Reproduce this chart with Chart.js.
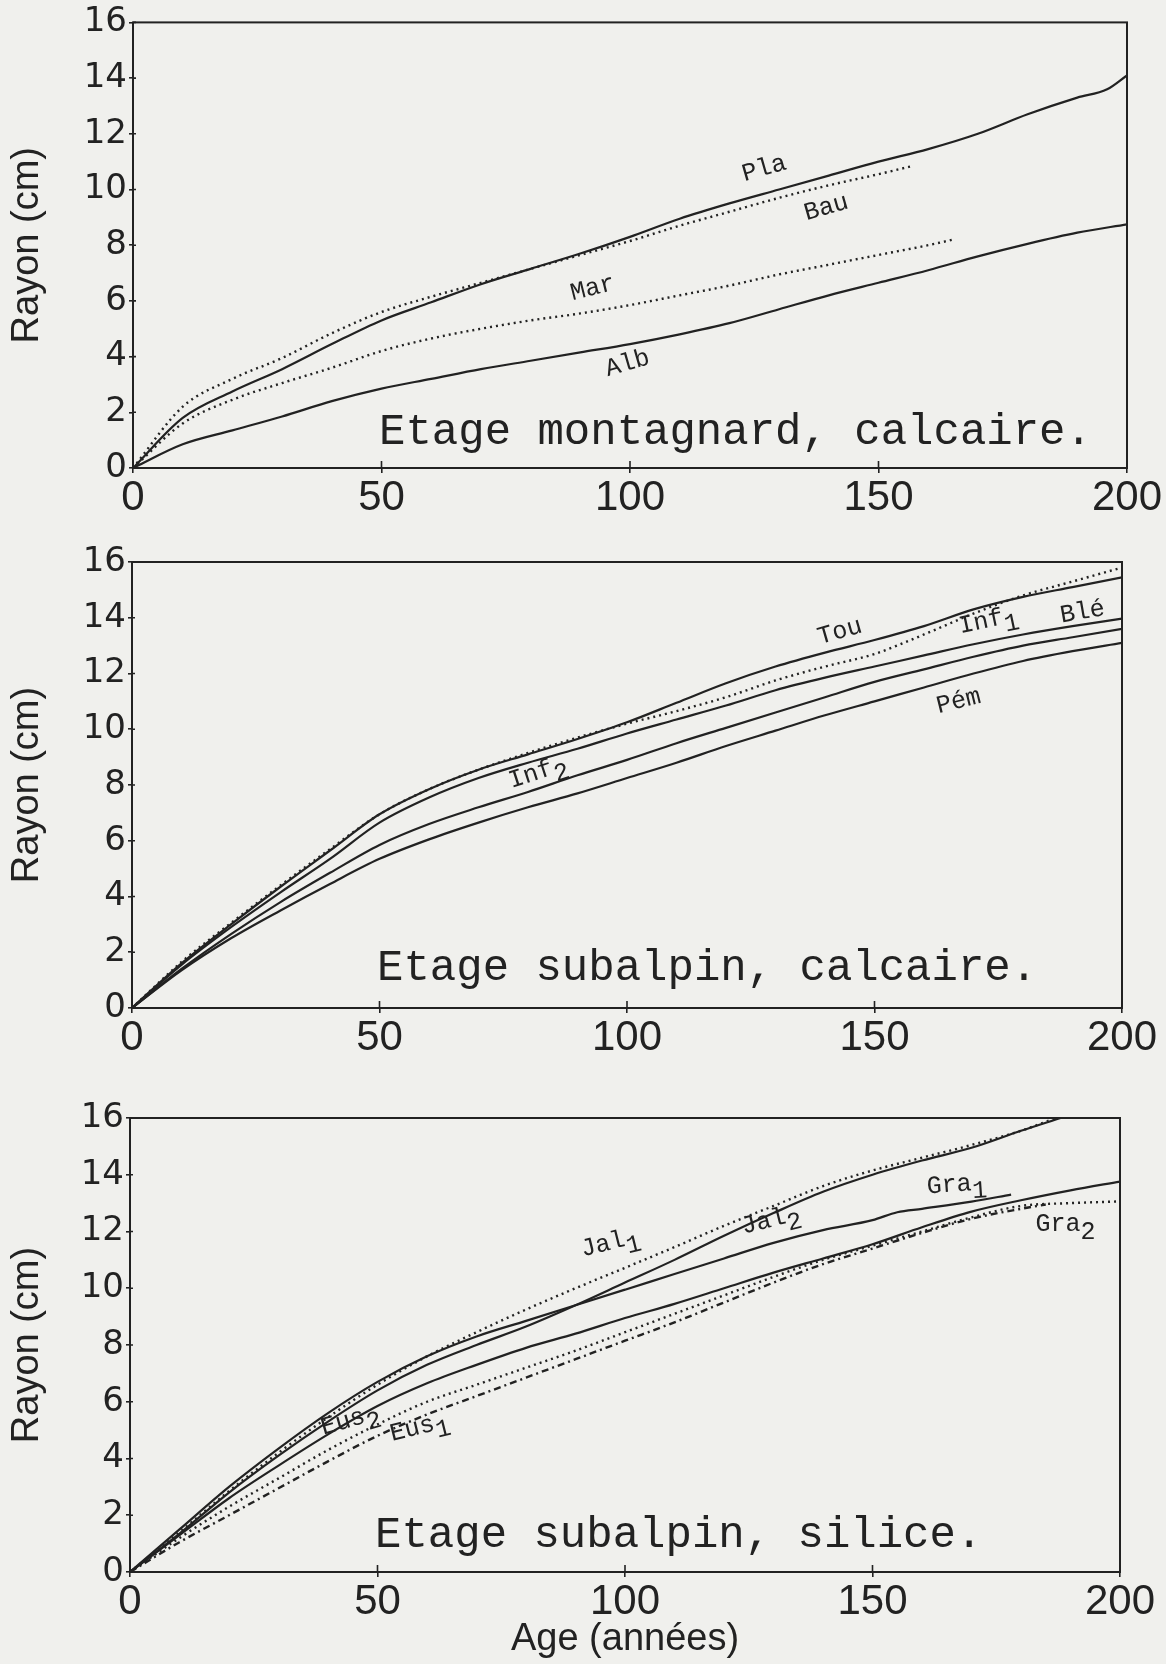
<!DOCTYPE html>
<html><head><meta charset="utf-8">
<script src="https://cdn.jsdelivr.net/npm/chart.js@4.4.0/dist/chart.umd.min.js"></script>
<style>
html,body{margin:0;padding:0;background:#f0f0ed;}
body{width:1166px;height:1664px;position:relative;overflow:hidden;}
.p{position:absolute;left:0;width:1166px;}
</style></head><body>
<div class="p" style="top:0px;height:528px"><canvas id="c1"></canvas></div>
<div class="p" style="top:530px;height:545px"><canvas id="c2"></canvas></div>
<div class="p" style="top:1080px;height:584px"><canvas id="c3"></canvas></div>
<script>
// ---- tick labels ----
const X_TICKS = [0, 50, 100, 150, 200];
const Y_TICKS = [0, 2, 4, 6, 8, 10, 12, 14, 16];
const AGES = [0,10,20,30,40,50,60,70,80,90,100,110,120,130,140,150,160,170,180,190,200];

// ---- Panel 1 : Etage montagnard, calcaire ----
const PLA_AGES = [0,10,20,30,40,50,60,70,80,90,100,110,120,130,140,150,160,170,180,190,196,200];
const PLA = [0,1.8,2.75,3.55,4.45,5.3,5.95,6.6,7.15,7.7,8.3,8.95,9.5,10.0,10.5,11.0,11.45,12.0,12.7,13.3,13.6,14.1];
const BAU_AGES = [0,10,20,30,40,50,60,70,80,90,100,110,120,130,140,150,157];
const BAU = [0,2.2,3.2,3.95,4.84,5.6,6.15,6.65,7.15,7.65,8.15,8.7,9.2,9.7,10.15,10.55,10.85];
const MAR_AGES = [0,10,20,30,40,50,60,70,80,90,100,110,120,130,140,150,160,165];
const MAR = [0,1.6,2.45,3.05,3.6,4.2,4.65,5.0,5.3,5.55,5.85,6.2,6.55,6.95,7.3,7.65,8.0,8.2];
const ALB = [0,0.85,1.35,1.85,2.4,2.85,3.2,3.55,3.85,4.15,4.45,4.8,5.2,5.7,6.2,6.65,7.1,7.6,8.05,8.45,8.75];

// ---- Panel 2 : Etage subalpin, calcaire ----
const TOU  = [0,1.6,3.0,4.35,5.65,6.95,7.85,8.55,9.1,9.65,10.25,10.95,11.65,12.25,12.75,13.2,13.7,14.3,14.75,15.1,15.45];
const INF1 = [0,1.65,3.05,4.4,5.7,6.95,7.85,8.55,9.15,9.7,10.2,10.65,11.15,11.75,12.25,12.7,13.4,14.15,14.8,15.3,15.8];
const BLE  = [0,1.55,2.9,4.15,5.35,6.65,7.55,8.25,8.8,9.3,9.85,10.35,10.85,11.4,11.85,12.25,12.65,13.05,13.4,13.7,13.97];
const INF2 = [0,1.4,2.65,3.8,4.85,5.85,6.6,7.2,7.75,8.35,8.9,9.5,10.05,10.6,11.15,11.7,12.15,12.6,13.0,13.3,13.6];
const PEM  = [0,1.35,2.5,3.5,4.45,5.35,6.05,6.65,7.2,7.7,8.25,8.8,9.4,9.95,10.5,11.0,11.5,12.0,12.45,12.8,13.1];

// ---- Panel 3 : Etage subalpin, silice ----
const JAL1_AGES = [0,10,20,30,40,50,60,70,80,90,100,110,120,130,140,150,160,170,180,187];
const JAL1 = [0,1.4,2.85,4.2,5.45,6.6,7.6,8.45,9.25,10.0,10.72,11.45,12.2,12.9,13.6,14.15,14.6,15.05,15.55,16.0];
const JAL2_AGES = [0,10,20,30,40,50,60,70,80,90,100,110,120,130,140,150,160,170,180,188];
const JAL2 = [0,1.35,2.8,4.1,5.3,6.4,7.3,8.0,8.65,9.4,10.2,11.0,11.85,12.65,13.4,14.0,14.5,14.95,15.55,16.0];
const GRA1_AGES = [0,10,20,30,40,50,60,70,80,90,100,110,120,130,140,150,155,160,170,178];
const GRA1 = [0,1.5,3.0,4.35,5.6,6.7,7.6,8.3,8.85,9.4,9.95,10.5,11.05,11.6,12.05,12.4,12.68,12.8,13.05,13.3];
const GRA2 = [0,1.2,2.3,3.3,4.3,5.2,6.0,6.6,7.2,7.8,8.45,9.1,9.75,10.4,11.0,11.5,12.0,12.5,12.9,13.0,13.06];
const EUS2 = [0,1.3,2.6,3.75,4.85,5.85,6.65,7.3,7.9,8.4,8.95,9.45,10.0,10.55,11.05,11.55,12.15,12.7,13.1,13.45,13.76];
const EUS1_AGES = [0,10,20,30,40,50,60,70,80,90,100,110,120,130,140,150,160,170,180,185];
const EUS1 = [0,1.05,2.0,2.95,3.9,4.8,5.55,6.2,6.85,7.5,8.15,8.8,9.5,10.2,10.85,11.4,11.95,12.45,12.8,12.95];

// ---- curve labels (data coordinates) ----
const P1_LABELS = [
  {t:'Pla', x:127, y:10.75, r:-16},
  {t:'Bau', x:139.5, y:9.35, r:-16},
  {t:'Mar', x:92.5, y:6.45, r:-14},
  {t:'Alb', x:99.5, y:3.75, r:-16}
];
const P2_LABELS = [
  {t:'Tou', x:143, y:13.5, r:-16},
  {t:'Inf', s:'1', x:173, y:13.9, r:-12},
  {t:'Blé', x:192, y:14.2, r:-10},
  {t:'Pém', x:167, y:11.0, r:-14},
  {t:'Inf', s:'2', x:82, y:8.45, r:-18}
];
const P3_LABELS = [
  {t:'Jal', s:'1', x:97, y:11.6, r:-14},
  {t:'Jal', s:'2', x:129.5, y:12.4, r:-14},
  {t:'Gra', s:'1', x:167, y:13.65, r:-4},
  {t:'Gra', s:'2', x:189, y:12.25, r:0},
  {t:'Eus', s:'2', x:44.5, y:5.35, r:-16},
  {t:'Eus', s:'1', x:58.5, y:5.1, r:-14}
];
const TITLES = ['Etage montagnard, calcaire.', 'Etage subalpin, calcaire.', 'Etage subalpin, silice.'];

const INK = '#222';

function ds(label, ages, vals, style) {
  return {
    label,
    data: ages.map((a, i) => ({x: a, y: vals[i]})),
    borderColor: INK,
    borderWidth: style === 'solid' ? 2.2 : 2.4,
    borderDash: style === 'dot' ? [2, 4] : (style === 'dashdot' ? [7, 4, 2, 4] : []),
    pointRadius: 0,
    cubicInterpolationMode: 'monotone',
    fill: false
  };
}

const framePlugin = {
  id: 'frame',
  afterDatasetsDraw(chart) {
    const {ctx, chartArea: a, scales: {x, y}} = chart;
    ctx.save();
    ctx.strokeStyle = INK;
    ctx.lineWidth = 2;
    ctx.strokeRect(a.left, a.top, a.right - a.left, a.bottom - a.top);
    ctx.lineWidth = 1.6;
    ctx.beginPath();
    X_TICKS.forEach(v => { const px = x.getPixelForValue(v); ctx.moveTo(px, a.bottom); ctx.lineTo(px, a.bottom - 7); });
    Y_TICKS.forEach(v => { const py = y.getPixelForValue(v); ctx.moveTo(a.left, py); ctx.lineTo(a.left + 3, py); });
    ctx.stroke();
    ctx.restore();
  }
};

function labelPlugin(labels, title, titleLift) {
  return {
    id: 'lbls',
    afterDatasetsDraw(chart) {
      const {ctx, chartArea: a, scales: {x, y}} = chart;
      ctx.save();
      ctx.fillStyle = INK;
      ctx.font = '25px "Liberation Mono"';
      labels.forEach(L => {
        const px = x.getPixelForValue(L.x), py = y.getPixelForValue(L.y);
        ctx.save();
        ctx.translate(px, py);
        ctx.rotate(L.r * Math.PI / 180);
        const w1 = ctx.measureText(L.t).width;
        const w2 = L.s ? ctx.measureText(L.s).width : 0;
        const tot = w1 + w2;
        ctx.textBaseline = 'middle';
        ctx.textAlign = 'left';
        ctx.fillText(L.t, -tot / 2, 0);
        if (L.s) ctx.fillText(L.s, -tot / 2 + w1, 8);
        ctx.restore();
      });
      ctx.font = '44px "Liberation Mono"';
      ctx.textAlign = 'left';
      ctx.textBaseline = 'alphabetic';
      ctx.fillText(title, x.getPixelForValue(49.5), a.bottom - titleLift);
      ctx.restore();
    }
  };
}

function makePanel(id, datasets, labels, title, titleLift, pad, yw, xh, xTitle) {
  const xScale = {
    type: 'linear', min: 0, max: 200,
    afterBuildTicks: s => { s.ticks = X_TICKS.map(v => ({value: v})); },
    ticks: {font: {family: 'Liberation Sans', size: 42}, color: INK, padding: 0, maxRotation: 0, autoSkip: false},
    grid: {drawOnChartArea: false, drawTicks: true, tickLength: 5, color: INK, lineWidth: 1.6},
    border: {display: false},
    afterFit: s => { s.height = xh; },
    title: xTitle ? {display: true, text: xTitle, color: INK, font: {family: 'Liberation Sans', size: 38}, padding: {top: 0, bottom: 2}} : {display: false}
  };
  const yScale = {
    type: 'linear', min: 0, max: 16,
    afterBuildTicks: s => { s.ticks = Y_TICKS.map(v => ({value: v})); },
    ticks: {font: {family: 'DejaVu Sans', size: 34}, color: INK, padding: 2, autoSkip: false},
    grid: {drawOnChartArea: false, drawTicks: true, tickLength: 4, color: INK, lineWidth: 1.6},
    border: {display: false},
    afterFit: s => { s.width = yw; },
    title: {display: true, text: 'Rayon (cm)', color: INK, font: {family: 'Liberation Sans', size: 38}, padding: {top: 5, bottom: 0}}
  };
  return new Chart(document.getElementById(id), {
    type: 'line',
    data: {datasets},
    options: {
      responsive: true, maintainAspectRatio: false, animation: false,
      layout: {padding: {top: pad.top, right: pad.right, left: 0, bottom: 0}},
      plugins: {legend: {display: false}, tooltip: {enabled: false}},
      scales: {x: xScale, y: yScale}
    },
    plugins: [framePlugin, labelPlugin(labels, title, titleLift)]
  });
}

makePanel('c1', [
  ds('Pla', PLA_AGES, PLA, 'solid'),
  ds('Bau', BAU_AGES, BAU, 'dot'),
  ds('Mar', MAR_AGES, MAR, 'dot'),
  ds('Alb', AGES, ALB, 'solid')
], P1_LABELS, TITLES[0], 24, {top: 21, right: 39}, 133, 60, null);

makePanel('c2', [
  ds('Tou', AGES, TOU, 'solid'),
  ds('Inf1', AGES, INF1, 'dot'),
  ds('Blé', AGES, BLE, 'solid'),
  ds('Inf2', AGES, INF2, 'solid'),
  ds('Pém', AGES, PEM, 'solid')
], P2_LABELS, TITLES[1], 28, {top: 32, right: 44}, 132, 67, null);

makePanel('c3', [
  ds('Jal1', JAL1_AGES, JAL1, 'dot'),
  ds('Jal2', JAL2_AGES, JAL2, 'solid'),
  ds('Gra1', GRA1_AGES, GRA1, 'solid'),
  ds('Gra2', AGES, GRA2, 'dot'),
  ds('Eus2', AGES, EUS2, 'solid'),
  ds('Eus1', EUS1_AGES, EUS1, 'dashdot')
], P3_LABELS, TITLES[2], 25, {top: 38, right: 46}, 130, 92, 'Age (années)');
</script>
</body></html>
